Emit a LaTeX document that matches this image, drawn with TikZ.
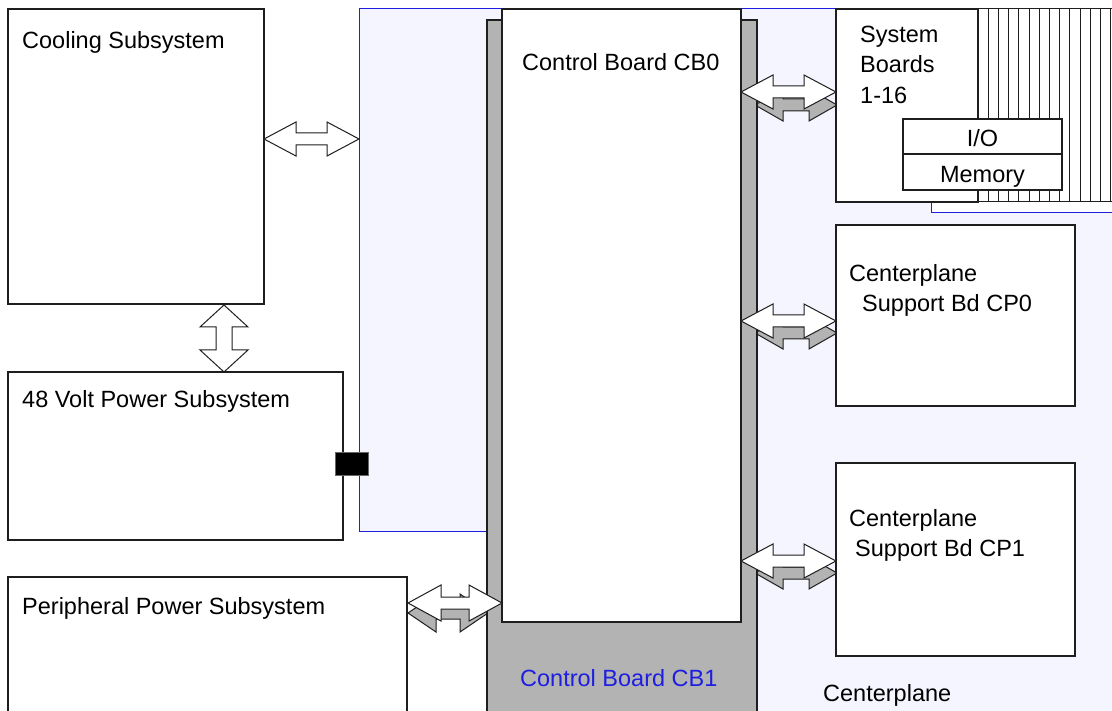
\documentclass[tikz,border=0pt]{standalone}
\usepackage{fontspec}
\setmainfont{Liberation Sans}
\usetikzlibrary{calc}

\definecolor{cplfill}{RGB}{245,245,255}
\definecolor{cplline}{RGB}{30,30,225}
\definecolor{cbgray}{RGB}{179,179,179}
\definecolor{edge}{RGB}{30,30,30}

% horizontal double block arrow: x-left, x-right, y, head length, half head, half shaft
\newcommand{\hdarrow}[6]{(#1,#3) -- (#1+#4,#3-#5) -- (#1+#4,#3-#6) -- (#2-#4,#3-#6) -- (#2-#4,#3-#5) -- (#2,#3)
  -- (#2-#4,#3+#5) -- (#2-#4,#3+#6) -- (#1+#4,#3+#6) -- (#1+#4,#3+#5) -- cycle}
% vertical double block arrow: x, y-top, y-bottom, head length, half head, half shaft
\newcommand{\vdarrow}[6]{(#1,#2) -- (#1+#5,#2+#4) -- (#1+#6,#2+#4) -- (#1+#6,#3-#4) -- (#1+#5,#3-#4) -- (#1,#3)
  -- (#1-#5,#3-#4) -- (#1-#6,#3-#4) -- (#1-#6,#2+#4) -- (#1-#5,#2+#4) -- cycle}

\tikzset{
  box/.style={draw=edge, fill=white, line width=1.1pt, inner sep=0pt, outer sep=0pt, anchor=north west},
  board/.style={draw=edge, fill=white, line width=1pt},
  lbl/.style={inner sep=0pt, anchor=base west, font=\fontsize{23.5}{28}\selectfont},
  clbl/.style={lbl, anchor=base},
  blockarrow/.style={draw=edge, fill=white, line width=1pt, line join=miter},
  shadowarrow/.style={draw=edge, fill=cbgray, line width=1pt, line join=miter},
}

\begin{document}
\begin{tikzpicture}[x=1pt, y=-1pt]
\useasboundingbox (0,0) rectangle (1112,711);
\clip (0,0) rectangle (1112,711);
\fill[white] (0,0) rectangle (1112,711);

% centerplane outline
\draw[cplline, fill=cplfill, line width=1pt]
  (359,9) -- (1130,9) -- (1130,730) -- (487,730) -- (487,531) -- (359,531) -- cycle;
\draw[cplline, fill=white, line width=1pt] (931,20) rectangle (1130,213);

% stack of system boards behind the front one
\foreach \k in {15,14,...,1} {
  \draw[board] ({836+10.2*\k},9) rectangle ({978+10.2*\k},202);
}

% shadows of the bus arrows
\draw[shadowarrow] \hdarrow{755}{837}{105}{28}{16}{6};
\draw[shadowarrow] \hdarrow{755}{837}{333}{28}{16}{6};
\draw[shadowarrow] \hdarrow{755}{837}{573}{28}{16}{6};
\draw[shadowarrow] \hdarrow{408}{488}{613}{28}{19}{6};

% control boards
\node[box, fill=cbgray, minimum width=270pt, minimum height=710pt] (cb1) at (487,20) {};
\node[box, minimum width=239pt, minimum height=613pt] (cb0) at (502,9) {};
\node[lbl] (cb0t) at (522,71) {Control Board CB0};
\node[lbl, text=cplline] (cb1t) at (520,686) {Control Board CB1};

% front system board with I/O and memory
\node[box, minimum width=142pt, minimum height=193pt] (sb) at (836,9) {};
\node[lbl] (sbt1) at (860,43) {System};
\node[lbl] (sbt2) at (860,73) {Boards};
\node[lbl] (sbt3) at (860,104) {1-16};
\node[box, minimum width=159pt, minimum height=36pt] (io) at (903,119) {};
\node[box, minimum width=159pt, minimum height=36pt] (mem) at (903,154) {};
\node[clbl] (iot) at (982.5,147) {I/O};
\node[clbl] (memt) at (982.5,183) {Memory};

% centerplane support boards
\node[box, minimum width=239pt, minimum height=181pt] (cp0) at (836,225) {};
\node[lbl] (cp0t1) at (849,282) {Centerplane};
\node[lbl] (cp0t2) at (862,312) {Support Bd CP0};
\node[box, minimum width=239pt, minimum height=193pt] (cp1) at (836,463) {};
\node[lbl] (cp1t1) at (849,526) {Centerplane};
\node[lbl] (cp1t2) at (855,556) {Support Bd CP1};

% subsystems on the left
\node[box, minimum width=256pt, minimum height=295pt] (cool) at (8,9) {};
\node[lbl] (coolt) at (22,49) {Cooling Subsystem};
\node[box, minimum width=335pt, minimum height=168pt] (pwr) at (8,372) {};
\node[lbl] (pwrt) at (22,408) {48 Volt Power Subsystem};
\node[box, minimum width=399pt, minimum height=150pt] (per) at (8,577) {};
\node[lbl] (pert) at (22,614) {Peripheral Power Subsystem};
\node[fill=black, draw=black!60, line width=0.8pt, minimum width=33pt, minimum height=23pt, inner sep=0pt] (conn) at (351.5,463.5) {};

\node[lbl] (cplt) at (823,701) {Centerplane};

% bus arrows
\draw[blockarrow] \hdarrow{264}{359}{139}{32}{17}{6};
\draw[blockarrow] \vdarrow{224}{305}{372}{22}{24}{8};
\draw[blockarrow] \hdarrow{741}{836}{92}{32}{17}{6};
\draw[blockarrow] \hdarrow{741}{836}{321}{32}{17}{6};
\draw[blockarrow] \hdarrow{741}{836}{561}{32}{17}{6};
\draw[blockarrow] \hdarrow{408}{502}{603}{33}{18}{6};
\end{tikzpicture}
\end{document}
